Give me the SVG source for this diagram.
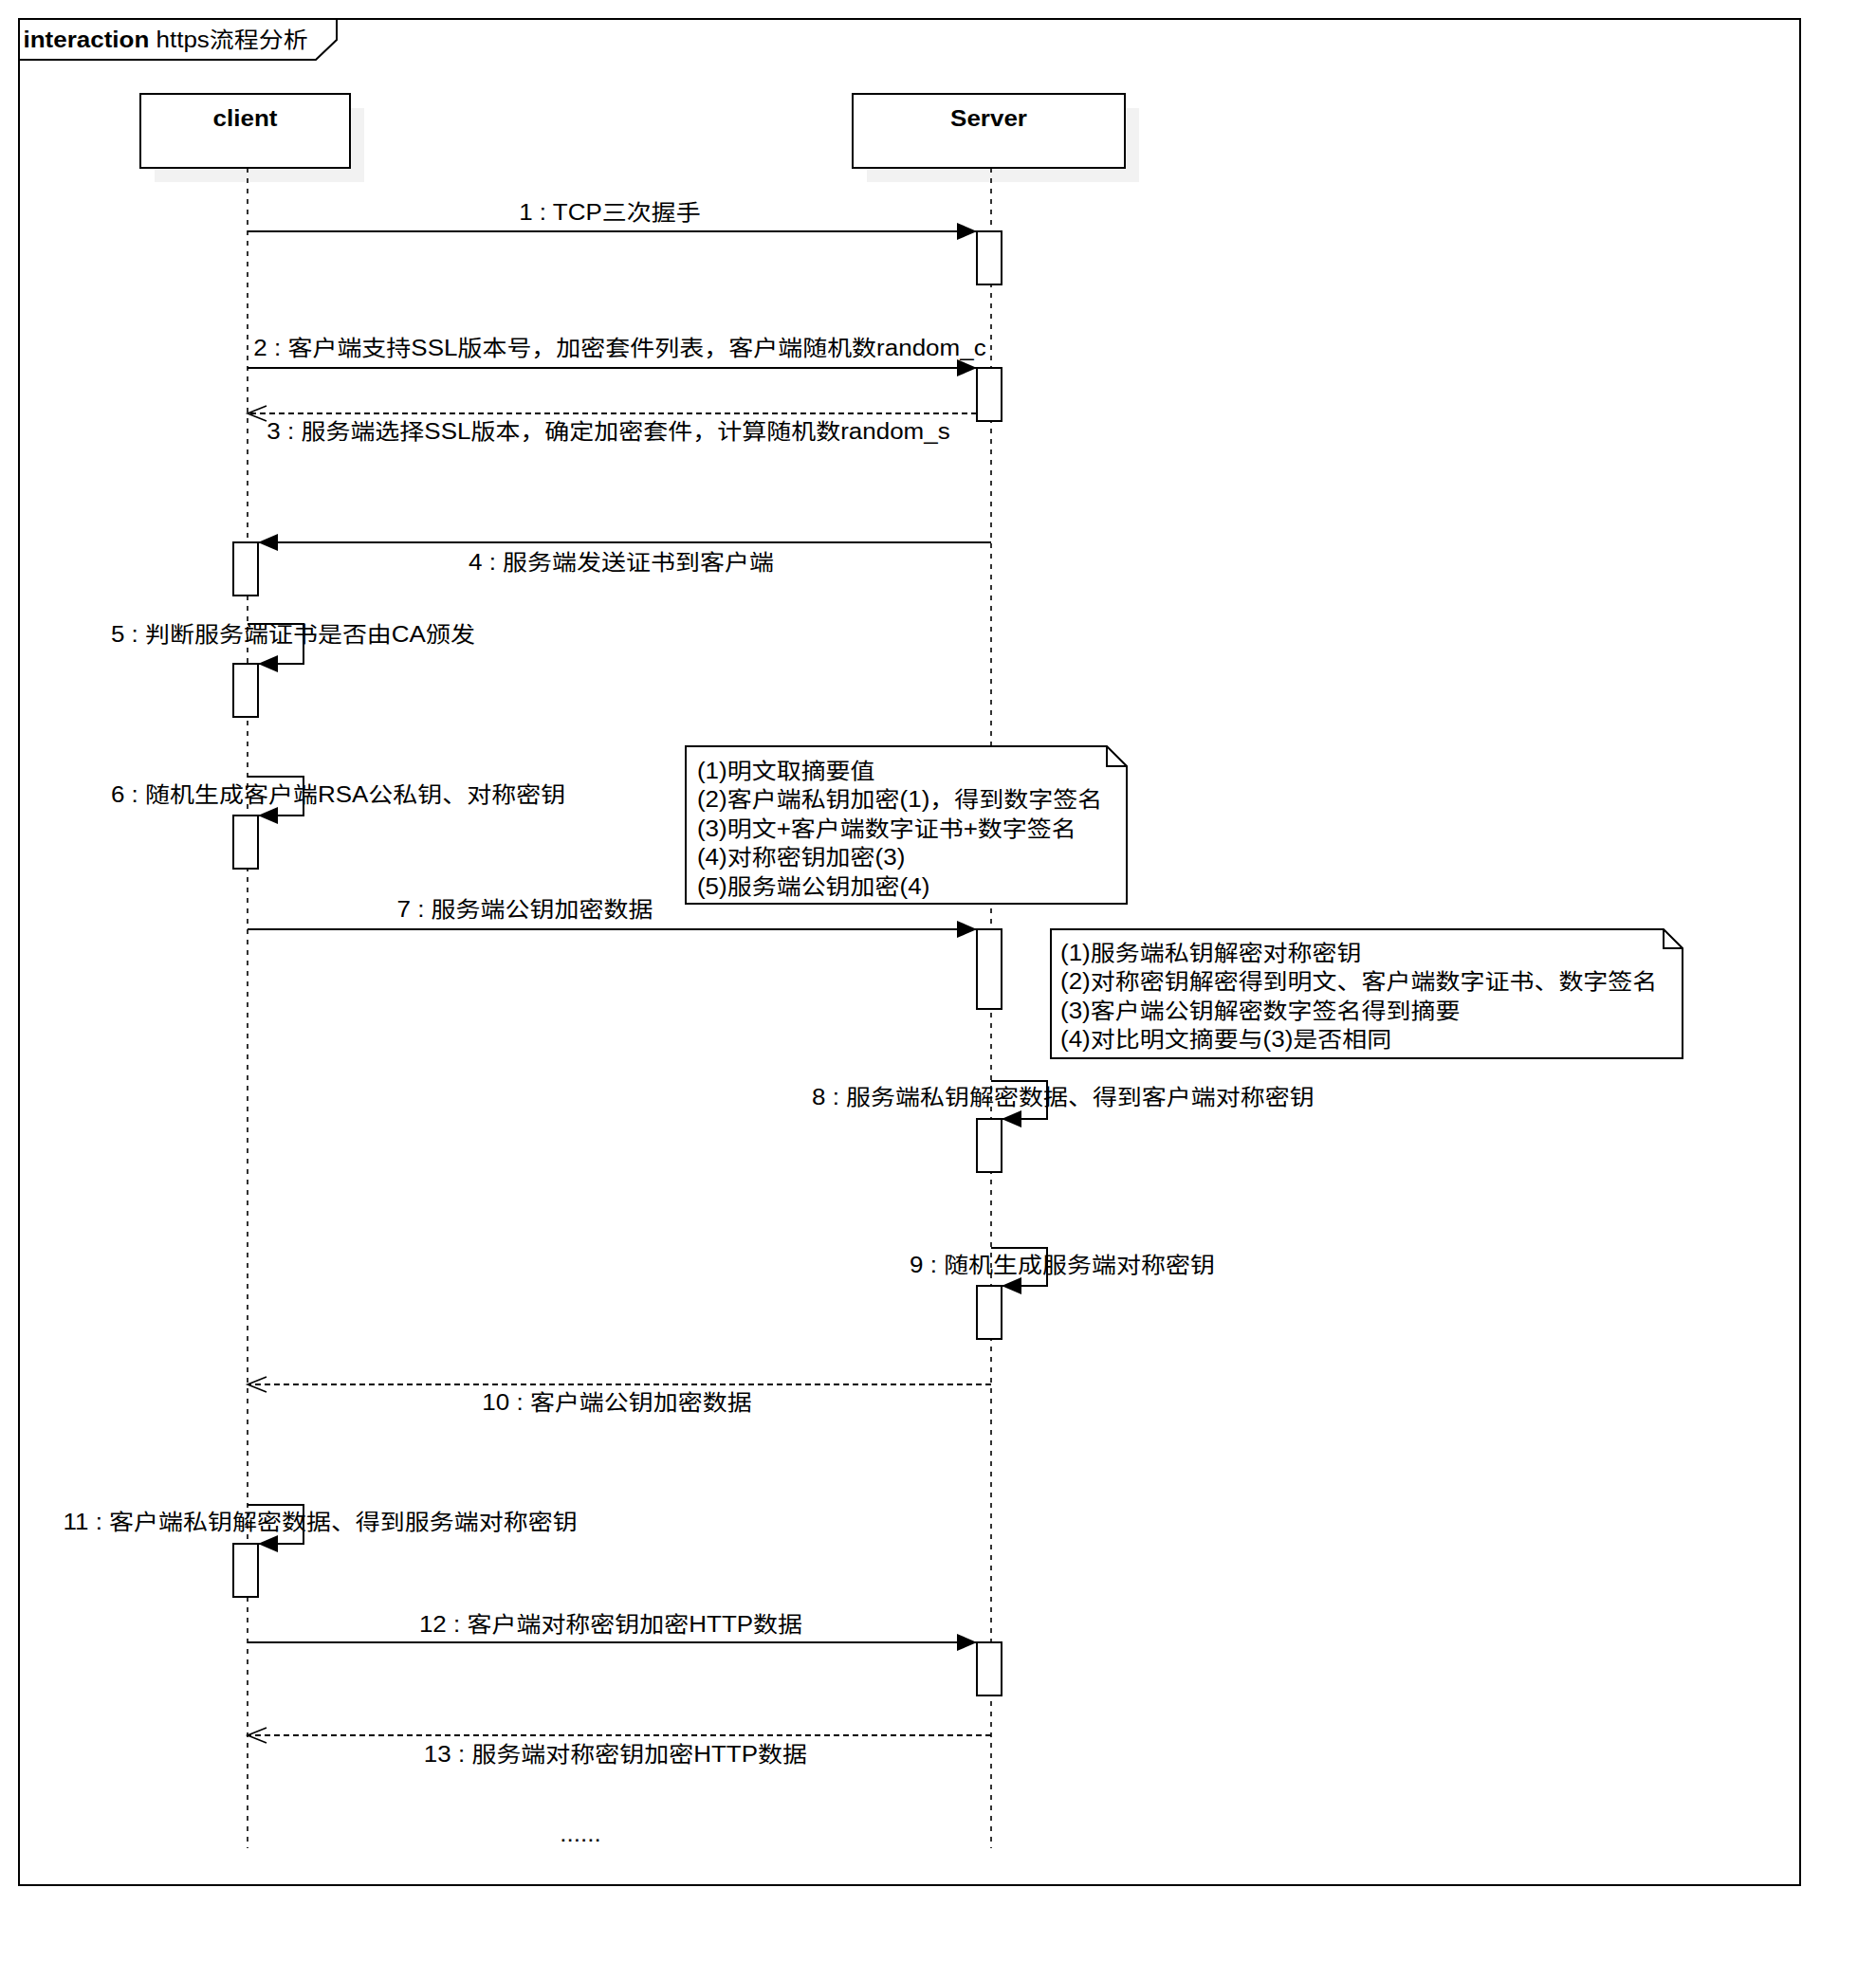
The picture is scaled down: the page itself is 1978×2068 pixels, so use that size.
<svg xmlns="http://www.w3.org/2000/svg" width="1978" height="2068" viewBox="0 0 1978 2068">
<style>
text { font-family: "Liberation Sans", "Noto Sans CJK SC", sans-serif; font-size: 23px; fill: #000; }
.b { font-weight: bold; }
.m { text-anchor: middle; }
.box { fill: #fff; stroke: #000; stroke-width: 2; }
.shadow { fill: #f2f2f2; stroke: none; }
.life { stroke: #000; stroke-width: 1.6; stroke-dasharray: 5 6; fill: none; }
.act { fill: #fff; stroke: #000; stroke-width: 2; }
.msg { stroke: #000; stroke-width: 2; fill: none; marker-end: url(#filled); }
.ret { stroke: #000; stroke-width: 2; fill: none; stroke-dasharray: 6 4; marker-end: url(#open); }
.note { fill: #fff; stroke: #000; stroke-width: 2; }
.fold { fill: none; stroke: #000; stroke-width: 2; }
</style>
<defs>
<marker id="filled" markerUnits="userSpaceOnUse" markerWidth="22" markerHeight="20" refX="21" refY="9" orient="auto">
<path d="M0,0 L21,9 L0,18 Z" fill="#000"/>
</marker>
<marker id="open" markerUnits="userSpaceOnUse" markerWidth="24" markerHeight="20" refX="21" refY="9" orient="auto">
<path d="M1,1 L21,9 L1,17" fill="none" stroke="#000" stroke-width="1.6"/>
</marker>
</defs>
<rect width="1978" height="2068" fill="#fff"/>

<g id="frame">
<rect x="20" y="20" width="1878" height="1968" fill="none" stroke="#000" stroke-width="2"/>
<path d="M20,63 H333 L355,42 V20" fill="none" stroke="#000" stroke-width="2"/>
<text transform="scale(1.13 1)" x="21.7" y="50"><tspan class="b">interaction</tspan> https流程分析</text>
</g>

<g id="client">
<rect class="shadow" x="163" y="114" width="221" height="78"/>
<rect class="box" x="148" y="99" width="221" height="78"/>
<text class="b m" transform="scale(1.13 1)" x="228.8" y="133">client</text>
</g>

<g id="server">
<rect class="shadow" x="914" y="114" width="287" height="78"/>
<rect class="box" x="899" y="99" width="287" height="78"/>
<text class="b m" transform="scale(1.13 1)" x="922.6" y="133">Server</text>
</g>

<g id="lifelines">
<line class="life" x1="261" y1="177" x2="261" y2="1949"/>
<line class="life" x1="1045" y1="177" x2="1045" y2="1949"/>
</g>

<g id="activations">
<rect class="act" x="1030" y="244" width="26" height="56"/>
<rect class="act" x="1030" y="388" width="26" height="56"/>
<rect class="act" x="246" y="572" width="26" height="56"/>
<rect class="act" x="246" y="700" width="26" height="56"/>
<rect class="act" x="246" y="860" width="26" height="56"/>
<rect class="act" x="1030" y="980" width="26" height="84"/>
<rect class="act" x="1030" y="1180" width="26" height="56"/>
<rect class="act" x="1030" y="1356" width="26" height="56"/>
<rect class="act" x="246" y="1628" width="26" height="56"/>
<rect class="act" x="1030" y="1732" width="26" height="56"/>
</g>

<g id="note1">
<path class="note" d="M723,787 H1167 L1188,808 V953 H723 Z"/>
<path class="fold" d="M1167,787 V808 H1188"/>
<text transform="scale(1.13 1)" x="650.4" y="821">(1)明文取摘要值</text>
<text transform="scale(1.13 1)" x="650.4" y="851.5">(2)客户端私钥加密(1)，得到数字签名</text>
<text transform="scale(1.13 1)" x="650.4" y="882">(3)明文+客户端数字证书+数字签名</text>
<text transform="scale(1.13 1)" x="650.4" y="912.5">(4)对称密钥加密(3)</text>
<text transform="scale(1.13 1)" x="650.4" y="943">(5)服务端公钥加密(4)</text>
</g>

<g id="note2">
<path class="note" d="M1108,980 H1754 L1774,1000 V1116 H1108 Z"/>
<path class="fold" d="M1754,980 V1000 H1774"/>
<text transform="scale(1.13 1)" x="989.4" y="1013">(1)服务端私钥解密对称密钥</text>
<text transform="scale(1.13 1)" x="989.4" y="1043.5">(2)对称密钥解密得到明文、客户端数字证书、数字签名</text>
<text transform="scale(1.13 1)" x="989.4" y="1074">(3)客户端公钥解密数字签名得到摘要</text>
<text transform="scale(1.13 1)" x="989.4" y="1104.5">(4)对比明文摘要与(3)是否相同</text>
</g>

<g id="connectors">
<line class="msg" x1="261" y1="244" x2="1030" y2="244"/>
<line class="msg" x1="261" y1="388" x2="1030" y2="388"/>
<line class="ret" x1="1030" y1="436" x2="261" y2="436"/>
<line class="msg" x1="1045" y1="572" x2="272" y2="572"/>
<path class="msg" d="M261,658 H320 V700 H272"/>
<path class="msg" d="M261,819 H320 V860 H272"/>
<line class="msg" x1="261" y1="980" x2="1030" y2="980"/>
<path class="msg" d="M1045,1140 H1104 V1180 H1056"/>
<path class="msg" d="M1045,1316 H1104 V1356 H1056"/>
<line class="ret" x1="1045" y1="1460" x2="261" y2="1460"/>
<path class="msg" d="M261,1587 H320 V1628 H272"/>
<line class="msg" x1="261" y1="1732" x2="1030" y2="1732"/>
<line class="ret" x1="1045" y1="1830" x2="261" y2="1830"/>
</g>

<g id="labels">
<text class="m" transform="scale(1.13 1)" x="569.0" y="232">1 : TCP三次握手</text>
<text class="m" transform="scale(1.13 1)" x="578.3" y="375">2 : 客户端支持SSL版本号，加密套件列表，客户端随机数random_c</text>
<text class="m" transform="scale(1.13 1)" x="567.7" y="463">3 : 服务端选择SSL版本，确定加密套件，计算随机数random_s</text>
<text class="m" transform="scale(1.13 1)" x="579.6" y="601">4 : 服务端发送证书到客户端</text>
<text transform="scale(1.13 1)" x="103.5" y="677">5 : 判断服务端证书是否由CA颁发</text>
<text transform="scale(1.13 1)" x="103.5" y="846">6 : 随机生成客户端RSA公私钥、对称密钥</text>
<text class="m" transform="scale(1.13 1)" x="489.8" y="967">7 : 服务端公钥加密数据</text>
<text transform="scale(1.13 1)" x="757.5" y="1165">8 : 服务端私钥解密数据、得到客户端对称密钥</text>
<text transform="scale(1.13 1)" x="848.7" y="1342">9 : 随机生成服务端对称密钥</text>
<text class="m" transform="scale(1.13 1)" x="575.7" y="1487">10 : 客户端公钥加密数据</text>
<text transform="scale(1.13 1)" x="58.8" y="1613">11 : 客户端私钥解密数据、得到服务端对称密钥</text>
<text class="m" transform="scale(1.13 1)" x="569.9" y="1721">12 : 客户端对称密钥加密HTTP数据</text>
<text class="m" transform="scale(1.13 1)" x="574.3" y="1858">13 : 服务端对称密钥加密HTTP数据</text>
<text class="m" transform="scale(1.13 1)" x="541.6" y="1942">......</text>
</g>
</svg>
